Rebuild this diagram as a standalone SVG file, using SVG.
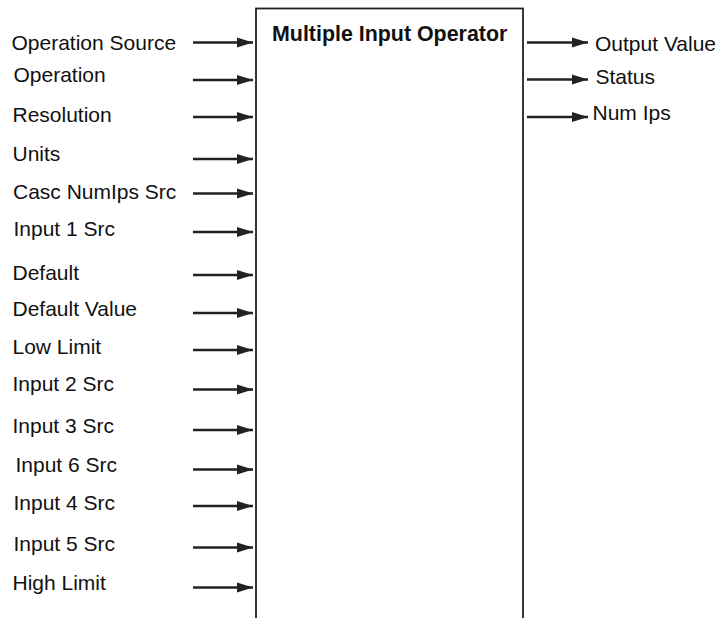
<svg xmlns="http://www.w3.org/2000/svg" width="721" height="618" viewBox="0 0 721 618">
<style>
text{font-family:"Liberation Sans",Arial,sans-serif;font-size:21px;fill:#111}
.t{font-weight:bold;font-size:21.4px}
.c line{stroke:#222;stroke-width:2.4}
</style>
<defs>
<marker id="ah" markerUnits="userSpaceOnUse" markerWidth="17" markerHeight="11" refX="16" refY="5.5" orient="auto">
<polygon points="0,0.5 16,5.5 0,10.5" fill="#222"/>
</marker>
</defs>
<rect width="721" height="618" fill="#fff"/>
<g id="block">
<rect x="256" y="8.5" width="267" height="640" fill="none" stroke="#222" stroke-width="1.8"/>
<text class="t" x="272" y="41">Multiple Input Operator</text>
</g>
<g id="inputs">
<text x="11.5" y="50">Operation Source</text>
<text x="13.5" y="82">Operation</text>
<text x="12.5" y="122">Resolution</text>
<text x="12.5" y="161">Units</text>
<text x="13" y="198.5">Casc NumIps Src</text>
<text x="13.5" y="236">Input 1 Src</text>
<text x="12.5" y="279.5">Default</text>
<text x="12.5" y="316">Default Value</text>
<text x="12.5" y="354">Low Limit</text>
<text x="12.5" y="391">Input 2 Src</text>
<text x="12.5" y="432.5">Input 3 Src</text>
<text x="15.5" y="471.5">Input 6 Src</text>
<text x="13.5" y="509.5">Input 4 Src</text>
<text x="13.5" y="550.5">Input 5 Src</text>
<text x="12.5" y="589.5">High Limit</text>
</g>
<g id="outputs">
<text x="595" y="51">Output Value</text>
<text x="595.5" y="84">Status</text>
<text x="592.5" y="120">Num Ips</text>
</g>
<g id="connectors" class="c">
<line x1="193" y1="42.5" x2="253" y2="42.5" marker-end="url(#ah)"/>
<line x1="193" y1="80" x2="253" y2="80" marker-end="url(#ah)"/>
<line x1="193" y1="117" x2="253" y2="117" marker-end="url(#ah)"/>
<line x1="193" y1="159" x2="253" y2="159" marker-end="url(#ah)"/>
<line x1="193" y1="193.5" x2="253" y2="193.5" marker-end="url(#ah)"/>
<line x1="193" y1="232" x2="253" y2="232" marker-end="url(#ah)"/>
<line x1="193" y1="275" x2="253" y2="275" marker-end="url(#ah)"/>
<line x1="193" y1="313" x2="253" y2="313" marker-end="url(#ah)"/>
<line x1="193" y1="350" x2="253" y2="350" marker-end="url(#ah)"/>
<line x1="193" y1="389.5" x2="253" y2="389.5" marker-end="url(#ah)"/>
<line x1="193" y1="430" x2="253" y2="430" marker-end="url(#ah)"/>
<line x1="193" y1="469.5" x2="253" y2="469.5" marker-end="url(#ah)"/>
<line x1="193" y1="506" x2="253" y2="506" marker-end="url(#ah)"/>
<line x1="193" y1="547.5" x2="253" y2="547.5" marker-end="url(#ah)"/>
<line x1="193" y1="587.5" x2="253" y2="587.5" marker-end="url(#ah)"/>
<line x1="527" y1="42.5" x2="588" y2="42.5" marker-end="url(#ah)"/>
<line x1="527" y1="79.5" x2="588" y2="79.5" marker-end="url(#ah)"/>
<line x1="527" y1="117" x2="588" y2="117" marker-end="url(#ah)"/>
</g>
</svg>
